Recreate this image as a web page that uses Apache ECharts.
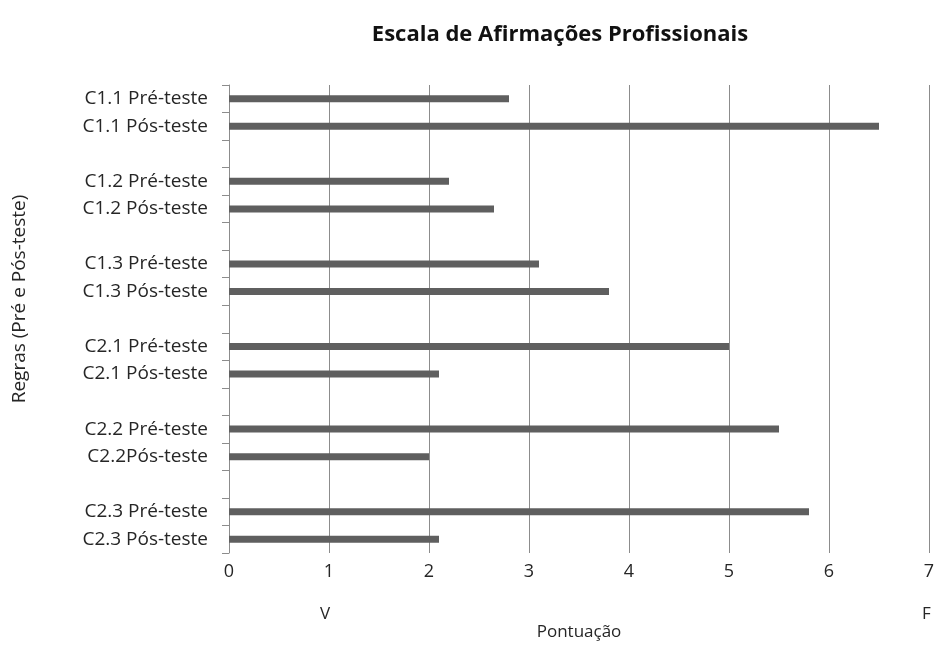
<!DOCTYPE html>
<html>
<head>
<meta charset="utf-8">
<style>
  html, body { margin: 0; padding: 0; background: #fff; }
  #chart { width: 938px; height: 646px; }
</style>
<script src="https://cdn.jsdelivr.net/npm/echarts@6/dist/echarts.min.js"></script>
</head>
<body>
<div id="chart"></div>
<script>
// Rule labels, top to bottom; empty entries leave a gap between rule pairs
const categories = [
  'C1.1 Pré-teste', 'C1.1 Pós-teste', '',
  'C1.2 Pré-teste', 'C1.2 Pós-teste', '',
  'C1.3 Pré-teste', 'C1.3 Pós-teste', '',
  'C2.1 Pré-teste', 'C2.1 Pós-teste', '',
  'C2.2 Pré-teste', 'C2.2Pós-teste', '',
  'C2.3 Pré-teste', 'C2.3 Pós-teste'
];

// Score per rule (null for the gap rows)
const scores = [
  2.8, 6.5, null,
  2.2, 2.65, null,
  3.1, 3.8, null,
  5.0, 2.1, null,
  5.5, 2.0, null,
  5.8, 2.1
];

const xTicks = [0, 1, 2, 3, 4, 5, 6, 7];

const FONT = '"Open Sans", "Noto Sans", sans-serif';
const TEXT = '#262626';

const chart = echarts.init(document.getElementById('chart'), null, { renderer: 'canvas' });

chart.setOption({
  animation: false,
  backgroundColor: '#ffffff',
  title: {
    text: 'Escala de Afirmações Profissionais',
    left: 555,
    top: 19,
    textAlign: 'center',
    textStyle: { fontFamily: FONT, fontSize: 22, fontWeight: 'bold', color: '#111' }
  },
  grid: { left: 229, right: 9, top: 85, bottom: 93, containLabel: false },
  xAxis: {
    type: 'value',
    min: xTicks[0],
    max: xTicks[xTicks.length - 1],
    interval: 1,
    name: 'Pontuação',
    nameLocation: 'middle',
    nameGap: 71,
    nameTextStyle: { fontFamily: FONT, fontSize: 17, color: TEXT },
    axisLine: { show: false },
    axisTick: { show: false },
    axisLabel: { fontFamily: FONT, fontSize: 18, color: TEXT, margin: 10 },
    splitLine: { show: true, lineStyle: { color: '#8c8c8c', width: 1 } }
  },
  yAxis: {
    type: 'category',
    data: categories,
    inverse: true,
    axisLine: { show: true, lineStyle: { color: '#8c8c8c', width: 1 } },
    axisTick: { show: true, length: 7, alignWithLabel: false, lineStyle: { color: '#8c8c8c' } },
    axisLabel: { fontFamily: FONT, fontSize: 19, color: TEXT, margin: 21, interval: 0 },
    splitLine: { show: false }
  },
  graphic: [
    // vertical axis title
    { type: 'text', x: 20, y: 299, rotation: Math.PI / 2,
      style: { text: 'Regras (Pré e Pós-teste)', font: '19px ' + FONT, fill: TEXT,
               align: 'center', verticalAlign: 'middle' } },
    // scale end markers
    { type: 'text', left: 320, top: 606,
      style: { text: 'V', font: '17px ' + FONT, fill: TEXT } },
    { type: 'text', left: 922, top: 606,
      style: { text: 'F', font: '17px ' + FONT, fill: TEXT } }
  ],
  series: [{
    type: 'bar',
    data: scores,
    barWidth: 7,
    itemStyle: { color: '#5f5f5f' },
    silent: true
  }]
});
</script>
</body>
</html>
